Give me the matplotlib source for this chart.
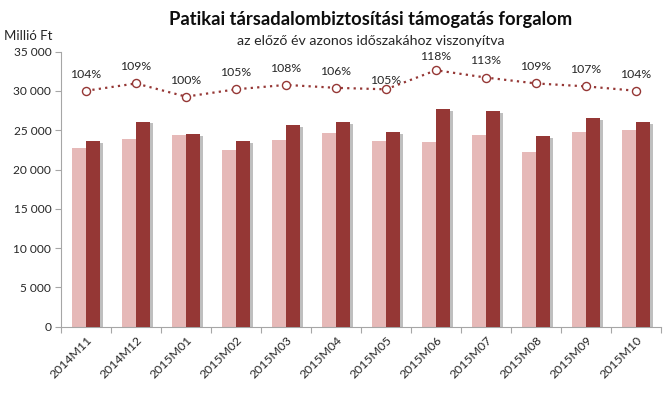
import matplotlib
matplotlib.use("Agg")
import matplotlib.pyplot as plt
import matplotlib.patheffects as pe
import matplotlib.transforms as mtransforms
import numpy as np

plt.rcParams['font.family'] = ['Lato', 'DejaVu Sans']

categories = ["2014M11", "2014M12", "2015M01", "2015M02", "2015M03", "2015M04",
              "2015M05", "2015M06", "2015M07", "2015M08", "2015M09", "2015M10"]
prev_year = [22700, 23900, 24400, 22500, 23700, 24600, 23600, 23500, 24400, 22250, 24800, 25050]
curr_year = [23650, 26100, 24550, 23600, 25700, 26000, 24800, 27650, 27400, 24250, 26600, 26000]
ratio_pct = [104, 109, 100, 105, 108, 106, 105, 118, 113, 109, 107, 104]
ratio_labels = ["104%", "109%", "100%", "105%", "108%", "106%", "105%", "118%", "113%", "109%", "107%", "104%"]
y_ticks = [0, 5000, 10000, 15000, 20000, 25000, 30000, 35000]
y_ticklabels = ["0", "5 000", "10 000", "15 000", "20 000", "25 000", "30 000", "35 000"]

label_dy = [8.0, 8.0, 8.0, 8.0, 8.0, 8.0, 2.5, 6.0, 8.0, 8.0, 8.0, 8.0]

light = "#E6B9B8"
dark = "#953735"
axis_col = "#A6A6A6"
text_col = "#262626"

fig = plt.figure(figsize=(6.7, 4.05), dpi=100)
ax = fig.add_axes([61/670, 1-326.7/405, 600/670, (326.7-51.6)/405])

x = np.arange(len(categories))
w = 0.286
shadow = [pe.SimplePatchShadow(offset=(2.0, -1.4), shadow_rgbFace="#808080", alpha=0.5), pe.Normal()]
b1 = ax.bar(x - w/2, prev_year, width=w, color=light, zorder=2)
b2 = ax.bar(x + w/2, curr_year, width=w, color=dark, zorder=3)
for p in list(b1) + list(b2):
    p.set_path_effects(shadow)

ax.set_xlim(-0.5, len(categories) - 0.5)
ax.set_ylim(0, 35000)
ax.set_yticks(y_ticks)
ax.set_yticklabels(y_ticklabels)
ax.set_xticks(np.arange(len(categories) + 1) - 0.5)
ax.set_xticklabels([])
ax.tick_params(axis='x', direction='out', length=4, color=axis_col, width=0.8)
ax.tick_params(axis='y', direction='out', length=4, color=axis_col, width=0.8,
               labelsize=8.6, labelcolor=text_col, pad=3)
for s in ["top", "right"]:
    ax.spines[s].set_visible(False)
for s in ["left", "bottom"]:
    ax.spines[s].set_color(axis_col)
    ax.spines[s].set_linewidth(0.8)

offs = mtransforms.offset_copy(ax.get_xaxis_transform(), fig=fig, x=4, y=-12, units='dots')
for i, c in enumerate(categories):
    ax.text(i, 0, c, transform=offs, rotation=45, ha='right', va='center',
            rotation_mode='anchor', fontsize=8.8, color=text_col)

ax2 = ax.twinx()
ax2.set_ylim(-56.8, 130.7)
ax2.axis('off')
ax2.plot(x, ratio_pct, linestyle=(0, (1, 1.9)), linewidth=1.6, color=dark,
         marker='o', markersize=5.8, markerfacecolor='white', markeredgecolor=dark,
         markeredgewidth=1.0, zorder=4)
for i, (v, lab) in enumerate(zip(ratio_pct, ratio_labels)):
    ax2.annotate(lab, (i, v), xytext=(0, label_dy[i]), textcoords='offset points',
                 ha='center', va='bottom', fontsize=8.8, color=text_col)

fig.text(371/670, 1-19/405, "Patikai társadalombiztosítási támogatás forgalom",
         ha='center', va='center', fontsize=13.2, fontweight='bold', color="#0D0D0D")
fig.text(371/670, 1-41/405, "az előző év azonos időszakához viszonyítva",
         ha='center', va='center', fontsize=10.2, color=text_col)
fig.text(4/670, 1-36/405, "Millió Ft", ha='left', va='center', fontsize=9.5, color=text_col)

fig.savefig("out.png", dpi=100)
